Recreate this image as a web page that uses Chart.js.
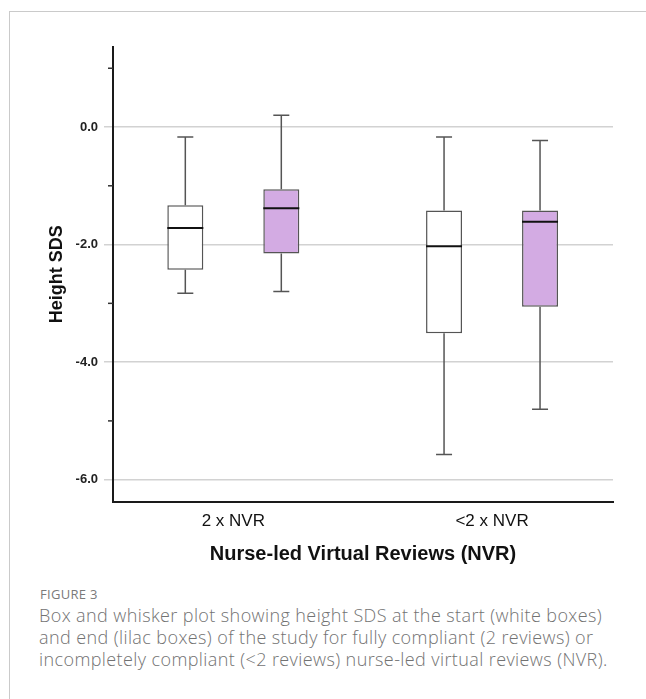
<!DOCTYPE html>
<html>
<head>
<meta charset="utf-8">
<script src="https://cdn.jsdelivr.net/npm/chart.js@4.4.1/dist/chart.umd.min.js"></script>
<style>
  body { margin: 0; background: #fff; }
  #frame { position: absolute; left: 9px; top: 11px; width: 700px; height: 720px;
           border-left: 1px solid #cacaca; border-top: 1px solid #cacaca; }
  #wrap { position: absolute; left: 0; top: 0; width: 646px; height: 566px; }
  #fig { position: absolute; left: 40px; top: 585px; font-family: "Open Sans", sans-serif;
         font-size: 13px; color: #7a7a7a; letter-spacing: 0.3px; }
  #caption { position: absolute; left: 39px; top: 604px; font-family: "Open Sans", sans-serif;
             font-weight: 300; font-size: 18px; letter-spacing: 0.4px; line-height: 22px; color: #727272; white-space: nowrap; }
</style>
</head>
<body>
<div id="frame"></div>
<div id="wrap"><canvas id="drawChart"></canvas></div>
<div id="fig">FIGURE 3</div>
<div id="caption">Box and whisker plot showing height SDS at the start (white boxes)<br>and end (lilac boxes) of the study for fully compliant (2 reviews) or<br>incompletely compliant (&lt;2 reviews) nurse-led virtual reviews (NVR).</div>
<script>
// categories
var categories = ['2 x NVR', '<2 x NVR'];

// start of study (white boxes)
var startMin    = [-2.83, -5.57];
var startQ1     = [-2.43, -3.51];
var startMedian = [-1.72, -2.03];
var startQ3     = [-1.33, -1.42];
var startMax    = [-0.17, -0.17];

// end of study (lilac boxes)
var endMin    = [-2.80, -4.80];
var endQ1     = [-2.15, -3.06];
var endMedian = [-1.38, -1.61];
var endQ3     = [-1.06, -1.42];
var endMax    = [0.20, -0.23];

// y axis ticks
var yMajorTicks = [0, -2, -4, -6];
var yMinorTicks = [1, -1, -3, -5];

function boxData(q1, q3) {
	return categories.map(function (c, i) { return { x: i, y: [q1[i], q3[i]] }; });
}

var whiskers = {
	id: 'whiskers',
	beforeDatasetsDraw: function (chart) {
		var ctx = chart.ctx, y = chart.scales.y;
		ctx.save();
		ctx.strokeStyle = '#555';
		ctx.lineWidth = 1.5;
		chart.data.datasets.forEach(function (ds, d) {
			chart.getDatasetMeta(d).data.forEach(function (bar, i) {
				var cx = bar.x;
				var pMax = y.getPixelForValue(ds.whiskerMax[i]);
				var pMin = y.getPixelForValue(ds.whiskerMin[i]);
				var pQ3 = y.getPixelForValue(ds.q3[i]);
				var pQ1 = y.getPixelForValue(ds.q1[i]);
				ctx.beginPath();
				ctx.moveTo(cx, pQ3); ctx.lineTo(cx, pMax);
				ctx.moveTo(cx - 8, pMax); ctx.lineTo(cx + 8, pMax);
				ctx.moveTo(cx, pQ1); ctx.lineTo(cx, pMin);
				ctx.moveTo(cx - 8, pMin); ctx.lineTo(cx + 8, pMin);
				ctx.stroke();
			});
		});
		ctx.restore();
	},
	afterDatasetsDraw: function (chart) {
		var ctx = chart.ctx, y = chart.scales.y;
		ctx.save();
		ctx.strokeStyle = '#111';
		ctx.lineWidth = 2;
		chart.data.datasets.forEach(function (ds, d) {
			chart.getDatasetMeta(d).data.forEach(function (bar, i) {
				var pMed = y.getPixelForValue(ds.median[i]);
				ctx.beginPath();
				ctx.moveTo(bar.x - bar.width / 2, pMed);
				ctx.lineTo(bar.x + bar.width / 2, pMed);
				ctx.stroke();
			});
		});
		// minor ticks
		ctx.strokeStyle = '#333';
		ctx.lineWidth = 1.5;
		yMinorTicks.forEach(function (v) {
			var p = y.getPixelForValue(v);
			ctx.beginPath();
			ctx.moveTo(chart.chartArea.left - 5, p);
			ctx.lineTo(chart.chartArea.left, p);
			ctx.stroke();
		});
		ctx.restore();
	}
};

var ctx = document.getElementById('drawChart').getContext('2d');
var drawChart = new Chart(ctx, {
	type: 'bar',
	data: {
		datasets: [{
			label: 'Start',
			data: boxData(startQ1, startQ3),
			q1: startQ1, q3: startQ3, median: startMedian, whiskerMin: startMin, whiskerMax: startMax,
			backgroundColor: '#ffffff',
			borderColor: '#555',
			borderWidth: 1.5,
			borderSkipped: false
		}, {
			label: 'End',
			data: boxData(endQ1, endQ3),
			q1: endQ1, q3: endQ3, median: endMedian, whiskerMin: endMin, whiskerMax: endMax,
			backgroundColor: '#d3abe3',
			borderColor: '#555',
			borderWidth: 1.5,
			borderSkipped: false
		}]
	},
	options: {
		responsive: true,
		maintainAspectRatio: false,
		animation: false,
		categoryPercentage: 0.742,
		barPercentage: 0.375,
		layout: { padding: { top: 46.5, right: 33, left: 0, bottom: 0 } },
		plugins: { legend: { display: false }, tooltip: { enabled: false } },
		scales: {
			x: {
				type: 'linear',
				offset: false,
				min: -0.465,
				max: 1.4675,
				grid: { display: false, drawTicks: false, offset: false },
				border: { display: true, color: '#1a1a1a', width: 2 },
				ticks: {
					stepSize: 1,
					includeBounds: false,
					padding: 9,
					color: '#111',
					font: { family: 'Liberation Sans', size: 17 },
					callback: function (v) { return categories[v] !== undefined ? categories[v] : ''; }
				},
				title: {
					display: true,
					text: 'Nurse-led Virtual Reviews (NVR)',
					color: '#111',
					font: { family: 'Liberation Sans', size: 20, weight: 'bold' },
					padding: { top: 0, bottom: 0 }
				},
				afterFit: function (scale) { scale.height = 64; }
			},
			y: {
				min: -6.38,
				max: 1.37,
				grid: {
					color: function (c) { return yMajorTicks.indexOf(c.tick.value) >= 0 ? '#d2d2d2' : 'rgba(0,0,0,0)'; },
					lineWidth: 1.5,
					tickLength: 9
				},
				border: { display: true, color: '#1a1a1a', width: 2 },
				ticks: {
					stepSize: 1,
					includeBounds: false,
					padding: 6,
					color: '#222',
					font: { family: 'Liberation Sans', size: 13, weight: 'bold' },
					callback: function (v) { return yMajorTicks.indexOf(v) >= 0 ? v.toFixed(1) : ''; }
				},
				title: {
					display: true,
					text: 'Height SDS',
					color: '#111',
					font: { family: 'Liberation Sans', size: 18, weight: 'bold' },
					padding: { top: 46, bottom: 0 }
				},
				afterFit: function (scale) { scale.width = 113; }
			}
		}
	},
	plugins: [whiskers]
});
</script>
</body>
</html>
